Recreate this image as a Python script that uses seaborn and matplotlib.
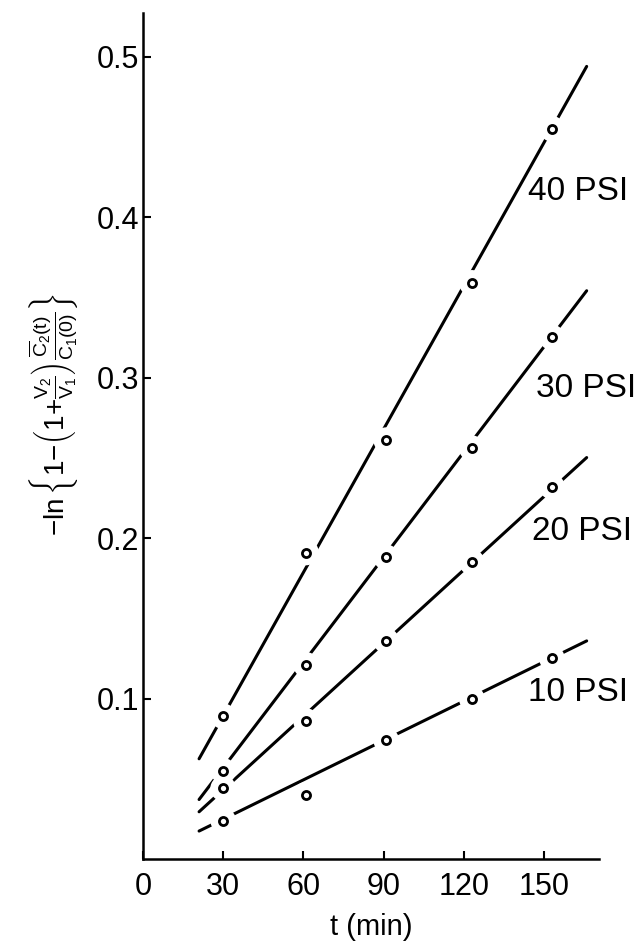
import numpy as np
import pandas as pd
import matplotlib
matplotlib.use("Agg")
import matplotlib.pyplot as plt
import seaborn as sns

# tempi di campionamento e valori
pressures = ["10 PSI", "20 PSI", "30 PSI", "40 PSI"]
t_points = [30, 61, 91, 123, 153]
y_10 = [0.024, 0.040, 0.074, 0.100, 0.125]
y_20 = [0.044, 0.086, 0.136, 0.185, 0.232]
y_30 = [0.055, 0.121, 0.188, 0.256, 0.325]
y_40 = [0.089, 0.191, 0.261, 0.359, 0.455]

# rette tracciate sul grafico (pendenza per minuto, intercetta)
fit_slope = [0.000817, 0.001522, 0.002186, 0.002975]
fit_intercept = [0.0003, -0.0025, -0.0088, 0.0]
fit_t = [21, 166]

x_ticks = [0, 30, 60, 90, 120, 150]
y_ticks = [0.1, 0.2, 0.3, 0.4, 0.5]
y_tick_labels = ["0.1", "0.2", "0.3", "0.4", "0.5"]

# tabelle per seaborn
series = [y_10, y_20, y_30, y_40]
pts = pd.DataFrame({
    "t": np.tile(t_points, len(pressures)),
    "y": np.concatenate(series),
    "p": np.repeat(pressures, len(t_points)),
})
t_line = np.array(fit_t, dtype=float)
fit = pd.DataFrame({
    "t": np.tile(t_line, len(pressures)),
    "y": np.concatenate([a + b * t_line for a, b in zip(fit_intercept, fit_slope)]),
    "p": np.repeat(pressures, len(t_line)),
})

sns.set_theme(style="ticks")
plt.rcParams["font.family"] = ["Liberation Sans", "DejaVu Sans"]
plt.rcParams["text.color"] = "black"
plt.rcParams["axes.labelcolor"] = "black"
plt.rcParams["mathtext.fontset"] = "custom"
plt.rcParams["mathtext.rm"] = "Liberation Sans"
plt.rcParams["mathtext.it"] = "Liberation Sans"
plt.rcParams["mathtext.default"] = "regular"

fig = plt.figure(figsize=(6.41, 9.43), dpi=100)
ax = fig.add_axes([0.223, 0.089, 0.711, 0.897])

black = {p: "black" for p in pressures}
sns.lineplot(data=fit, x="t", y="y", hue="p", palette=black, lw=2.2,
             legend=False, ax=ax, zorder=2)
# alone bianco per interrompere le rette attorno ai punti
sns.scatterplot(data=pts, x="t", y="y", color="white", edgecolor="none",
                s=340, legend=False, ax=ax, zorder=3)
sns.scatterplot(data=pts, x="t", y="y", color="white", edgecolor="black",
                linewidth=2.0, s=34, legend=False, ax=ax, zorder=4)

# etichette delle pressioni
label_pos = {"40 PSI": (144, 0.416), "30 PSI": (147, 0.293),
             "20 PSI": (145.5, 0.204), "10 PSI": (144, 0.104)}
for p in pressures:
    ax.text(*label_pos[p], p, fontsize=24, ha="left", va="center",
            color="black", zorder=5)

ax.set_xlim(0, 170.5)
ax.set_ylim(0, 0.527)
ax.set_xticks(x_ticks)
ax.set_yticks(y_ticks)
ax.set_yticklabels(y_tick_labels)
ax.tick_params(direction="in", length=6, width=1.5, labelsize=22,
               colors="black", labelcolor="black")
ax.tick_params(axis="x", pad=9)
ax.tick_params(axis="y", pad=3)
for s in ["left", "bottom"]:
    ax.spines[s].set_linewidth(1.8)
    ax.spines[s].set_color("black")
sns.despine(ax=ax)

ax.set_xlabel("t (min)", fontsize=21, labelpad=8)
ax.set_ylabel(r"${-}\ln\left\{1{-}\left(1{+}\frac{V_2}{V_1}\right)\frac{\overline{C}_2(t)}{C_1(0)}\right\}$",
              fontsize=20)
ax.yaxis.set_label_coords(-0.135, 0.525)

fig.savefig("out.png", dpi=100)
